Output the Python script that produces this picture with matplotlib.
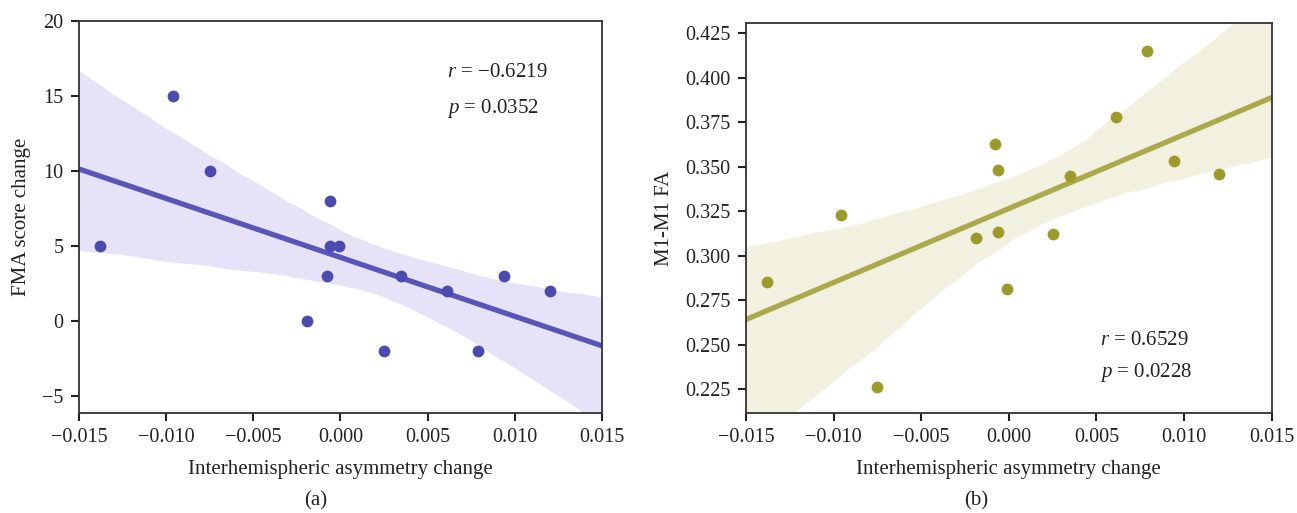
import numpy as np
import matplotlib
matplotlib.use("Agg")
import matplotlib.pyplot as plt
import seaborn as sns

# Data
asym_change = [-0.0138, -0.0096, -0.0075, -0.0019, -0.0008, -0.0006, -0.0006,
               -0.0001, 0.0025, 0.0035, 0.0061, 0.0079, 0.0094, 0.0120]
fma_change = [5, 15, 10, 0, 3, 8, 5, 5, -2, 3, 2, -2, 3, 2]
m1_fa = [0.285, 0.323, 0.226, 0.310, 0.3625, 0.348, 0.313,
         0.281, 0.312, 0.345, 0.378, 0.415, 0.353, 0.346]

fma_ticks = [-5, 0, 5, 10, 15, 20]
fa_ticks = [0.225, 0.250, 0.275, 0.300, 0.325, 0.350, 0.375, 0.400, 0.425]
x_ticks = [-0.015, -0.010, -0.005, 0.000, 0.005, 0.010, 0.015]

plt.rcParams['font.family'] = ['Liberation Serif', 'DejaVu Serif']
plt.rcParams['mathtext.fontset'] = 'custom'
plt.rcParams['mathtext.it'] = 'Liberation Serif:italic'
plt.rcParams['mathtext.rm'] = 'Liberation Serif'

fig = plt.figure(figsize=(12.97, 5.13), dpi=100)
axL = fig.add_axes([0.0609, 0.1949, 0.4032, 0.7647])
axR = fig.add_axes([0.5752, 0.1949, 0.4053, 0.7597])

def style(ax, yticks, ylim, yfmt):
    ax.set_xlim(-0.015, 0.015)
    ax.set_ylim(*ylim)
    ax.set_xticks(x_ticks)
    ax.set_xticklabels([f"{t:.3f}".replace('-', '\u2212') for t in x_ticks])
    ax.set_yticks(yticks)
    ax.set_yticklabels([yfmt(t) for t in yticks])
    for s in ax.spines.values():
        s.set_color('#333333')
        s.set_linewidth(1.3)
    ax.tick_params(direction='out', length=6, width=1.5, color='#222222',
                   labelsize=14.5, labelcolor='#222222', pad=5)

def draw(ax, y, dot, line, band, seed):
    ax.set_xlim(-0.015, 0.015)
    sns.regplot(x=np.array(asym_change), y=np.array(y), ax=ax, truncate=False,
                seed=seed, n_boot=1000, ci=95,
                scatter_kws=dict(s=72, color=dot, alpha=1, linewidths=0, zorder=3),
                line_kws=dict(color=line, lw=3.8, zorder=2))
    for coll in ax.collections:
        if coll.__class__.__name__ in ('PolyCollection', 'FillBetweenPolyCollection'):
            coll.set_facecolor(band)
            coll.set_alpha(1)
            coll.set_edgecolor('none')
            coll.set_zorder(1)

draw(axL, fma_change, '#4b4aae', '#5a55b8', '#e6e2f8', 3)
draw(axR, m1_fa, '#9c9a2b', '#aca94c', '#f2f1e0', 5)

style(axL, fma_ticks, (-6.1, 20), lambda t: f"{t:d}".replace('-', '\u2212'))
style(axR, fa_ticks, (0.2115, 0.4306), lambda t: f"{t:.3f}")

for ax, lab in ((axL, 'FMA score change'), (axR, 'M1-M1 FA')):
    ax.set_xlabel('Interhemispheric asymmetry change', fontsize=15,
                  color='#222222', labelpad=9)
    ax.set_ylabel(lab, fontsize=15, color='#222222', labelpad=8)

axL.text(0.704, 0.867, '$r$ = \u22120.6219', transform=axL.transAxes,
         fontsize=15, color='#222222', va='center', ha='left')
axL.text(0.704, 0.777, '$p$ = 0.0352', transform=axL.transAxes,
         fontsize=15, color='#222222', va='center', ha='left')
axR.text(0.673, 0.187, '$r$ = 0.6529', transform=axR.transAxes,
         fontsize=15, color='#222222', va='center', ha='left')
axR.text(0.673, 0.103, '$p$ = 0.0228', transform=axR.transAxes,
         fontsize=15, color='#222222', va='center', ha='left')

fig.text(316 / 1297, 1 - 501 / 513, '(a)', fontsize=15, color='#222222',
         ha='center', va='center')
fig.text(976 / 1297, 1 - 501 / 513, '(b)', fontsize=15, color='#222222',
         ha='center', va='center')

fig.savefig('out.png', dpi=100)
